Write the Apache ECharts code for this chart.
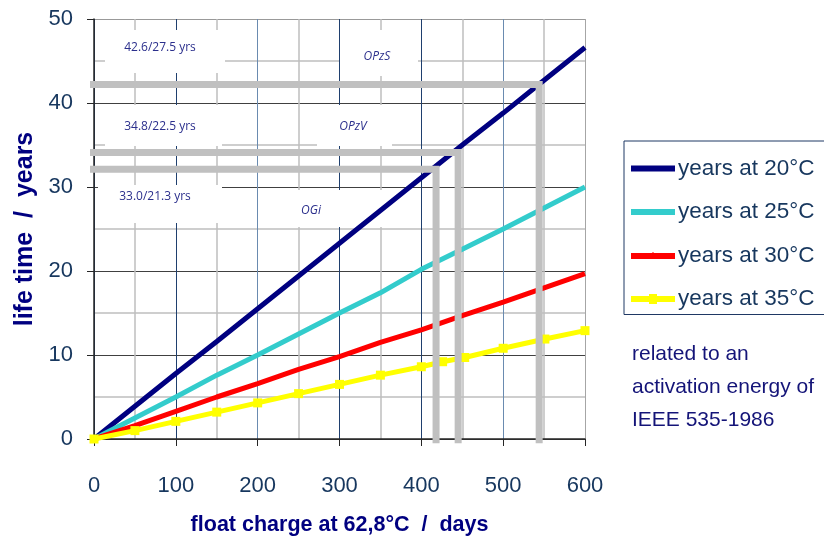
<!DOCTYPE html>
<html>
<head>
<meta charset="utf-8">
<script src="https://cdn.jsdelivr.net/npm/echarts@6/dist/echarts.min.js"></script>
<style>html,body{margin:0;padding:0;background:#fff;}#c{width:824px;height:542px;}</style>
</head>
<body>
<div id="c"></div>
<script>
// ---- data ----
const xTicks = [0, 100, 200, 300, 400, 500, 600];
const yTicks = [0, 10, 20, 30, 40, 50];
const seriesNames = ['years at 20°C', 'years at 25°C', 'years at 30°C', 'years at 35°C'];
const days20 = [0, 50, 100, 150, 200, 250, 300, 350, 400, 450, 500, 550, 600];
const years20 = [0, 3.9, 7.8, 11.6, 15.5, 19.4, 23.3, 27.2, 31.1, 35.0, 38.8, 42.7, 46.6];
const days25 = [0, 50, 100, 150, 200, 250, 300, 350, 400, 450, 500, 550, 600];
const years25 = [0, 2.5, 5.0, 7.6, 10.0, 12.5, 15.0, 17.4, 20.2, 22.6, 25.0, 27.5, 30.0];
const days30 = [0, 50, 100, 150, 200, 250, 300, 350, 400, 450, 500, 550, 600];
const years30 = [0, 1.6, 3.3, 5.0, 6.6, 8.3, 9.8, 11.5, 13.0, 14.7, 16.3, 18.0, 19.7];
const days35 = [0, 50, 100, 150, 200, 250, 300, 350, 400, 426, 453, 500, 551, 600];
const years35 = [0, 1.0, 2.1, 3.2, 4.3, 5.4, 6.5, 7.6, 8.6, 9.2, 9.7, 10.8, 11.9, 12.9];
// reference (grey) guide lines: [x, y] corners
const refOPzS = [[-5, 42.2], [544, 42.2], [544, -0.5]];
const refOPzV = [[-5, 34.1], [445, 34.1], [445, -0.5]];
const refOGi  = [[-5, 32.1], [418, 32.1], [418, -0.5]];
const annoLife = ['42.6/27.5 yrs', '34.8/22.5 yrs', '33.0/21.3 yrs'];
const annoType = ['OPzS', 'OPzV', 'OGi'];
const noteLines = ['related to an', 'activation energy of', 'IEEE 535-1986'];

const zip = (xs, ys) => xs.map((x, i) => [x, ys[i]]);
const FONT = '"Liberation Sans", Arial, sans-serif';
const annoFont = '"Open Sans", "Liberation Sans", sans-serif';
const navy = '#2B2F8C';

const chart = echarts.init(document.getElementById('c'), null, {renderer: 'canvas'});

function box(x, y, w, h) {
  return {type: 'rect', z: 1, silent: true, shape: {x: x, y: y, width: w, height: h}, style: {fill: '#ffffff'}};
}
function atext(t, x, y, italic) {
  return {type: 'text', z: 1, silent: true, x: x, y: y,
    style: {text: t, fill: navy, font: (italic ? 'italic ' : '') + '12px ' + annoFont, textAlign: 'center', textVerticalAlign: 'middle'}};
}

const greyLine = (name, d) => ({
  name: name, type: 'line', data: d, symbol: 'none', clip: false, silent: true, z: 3,
  lineStyle: {color: '#C0C0C0', width: 7, cap: 'butt', join: 'miter'}
});

const barIcon = 'path://M0,3H44V9H0Z';
const barTickIcon = 'path://M0,3H21.5V2H22.5V3H44V9H0Z';
const barSquareIcon = 'path://M0,3H18V1H26V3H44V9H26V11H18V9H0Z';

chart.setOption({
  animation: false,
  backgroundColor: '#ffffff',
  grid: {left: 94, top: 19, right: 239, bottom: 103, containLabel: false, outerBoundsMode: 'none'},
  legend: {
    data: [
      {name: seriesNames[0], icon: barIcon},
      {name: seriesNames[1], icon: barIcon},
      {name: seriesNames[2], icon: barTickIcon},
      {name: seriesNames[3], icon: barSquareIcon}
    ],
    orient: 'vertical', left: 624, top: 141,
    padding: [16, 40, 4, 7],
    itemWidth: 44, itemHeight: 12, itemGap: 20.5, symbolKeepAspect: true,
    borderColor: '#1F3864', borderWidth: 1,
    textStyle: {fontFamily: FONT, fontSize: 22.5, color: '#17375E', padding: [0, 0, 0, -2]}
  },
  xAxis: {
    type: 'value', min: 0, max: 600, interval: 100,
    name: 'float charge at 62,8°C  /  days', nameLocation: 'middle', nameGap: 75,
    nameTextStyle: {fontFamily: FONT, fontSize: 21.5, fontWeight: 'bold', color: '#000080'},
    axisLine: {show: true, onZero: false, lineStyle: {color: '#262626', width: 1.5}},
    axisTick: {show: true, length: 7, lineStyle: {color: '#262626'}},
    axisLabel: {fontFamily: FONT, fontSize: 22, color: '#17375E', margin: 36,
      formatter: v => xTicks.includes(v) ? String(v) : ''},
    splitLine: {show: true, lineStyle: {color: ['#1F3F6E', '#1F3F6E', '#6A8BB0', '#1F3F6E', '#1F3F6E', '#6A8BB0', '#A6A6A6'], width: 1}},
    minorTick: {show: false, splitNumber: 2},
    minorSplitLine: {show: true, lineStyle: {color: '#BFBFBF', width: 1.5}}
  },
  yAxis: {
    type: 'value', min: 0, max: 50, interval: 10,
    name: 'life time  /  years', nameLocation: 'middle', nameGap: 56,
    nameTextStyle: {fontFamily: FONT, fontSize: 25, fontWeight: 'bold', color: '#000080'},
    axisLine: {show: true, lineStyle: {color: '#262626', width: 1.5}},
    axisTick: {show: true, length: 7, lineStyle: {color: '#262626'}},
    axisLabel: {fontFamily: FONT, fontSize: 22, color: '#17375E', margin: 21,
      formatter: v => yTicks.includes(v) ? String(v) : ''},
    splitLine: {show: true, lineStyle: {color: ['#404040', '#404040', '#404040', '#404040', '#404040', '#999999'], width: 1}},
    minorTick: {show: false, splitNumber: 2},
    minorSplitLine: {show: true, lineStyle: {color: '#BFBFBF', width: 1.5}}
  },
  graphic: [
    box(105, 30, 120, 43), box(340, 30, 78, 46),
    box(105, 105, 117, 41), box(317, 105, 75, 41),
    box(98, 185, 124, 38), box(265, 190, 120, 37),
    atext(annoLife[0], 160, 48, false), atext(annoType[0], 377, 57, true),
    atext(annoLife[1], 160, 127, false), atext(annoType[1], 353, 127, true),
    atext(annoLife[2], 155, 197, false), atext(annoType[2], 311, 211, true),
    {type: 'text', z: 5, x: 632, y: 338, silent: true,
      style: {text: noteLines.join('\n'), fill: '#141478', font: '21px ' + FONT, lineHeight: 33}}
  ],
  series: [
    {name: seriesNames[0], type: 'line', data: zip(days20, years20), symbol: 'none', z: 2,
      itemStyle: {color: '#000080'}, lineStyle: {color: '#000080', width: 5}},
    {name: seriesNames[1], type: 'line', data: zip(days25, years25), symbol: 'none', z: 2,
      itemStyle: {color: '#33CCCC'}, lineStyle: {color: '#33CCCC', width: 5}},
    {name: seriesNames[2], type: 'line', data: zip(days30, years30), symbol: 'none', z: 2,
      itemStyle: {color: '#FF0000'}, lineStyle: {color: '#FF0000', width: 5}},
    {name: seriesNames[3], type: 'line', data: zip(days35, years35), symbol: 'rect', symbolSize: 9, z: 2,
      itemStyle: {color: '#FFFF00'}, lineStyle: {color: '#FFFF00', width: 5}},
    greyLine('OPzS', refOPzS), greyLine('OPzV', refOPzV), greyLine('OGi', refOGi)
  ]
});
</script>
</body>
</html>
